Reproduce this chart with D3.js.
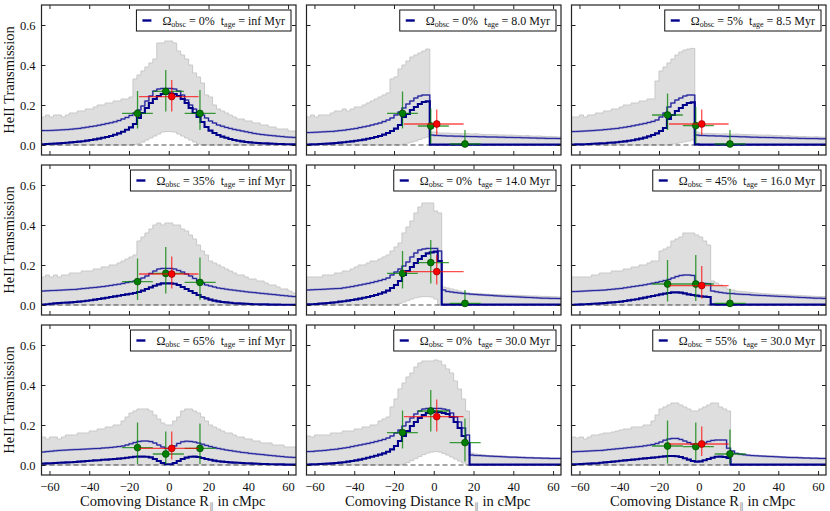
<!DOCTYPE html>
<html>
<head>
<meta charset="utf-8">
<script src="https://cdn.jsdelivr.net/npm/d3@7"></script>
<style>
  body { margin: 0; background: #fff; }
  text { font-family: "Liberation Serif", "Times New Roman", serif; fill: #111; }
</style>
</head>
<body>
<svg id="chart" width="830" height="511"></svg>
<script>
// bins of 2 cMpc from -64 to 64
const binStart = -64
const binWidth = 2

// legend labels
const omegaLabels = ['0%', '0%', '5%', '35%', '0%', '45%', '65%', '0%', '55%']
const ageLabels = ['inf', '8.0', '8.5', 'inf', '14.0', '16.0', 'inf', '30.0', '30.0']

// ---- panel 1 : 0% / inf
const p1Upper = [.14,.15,.14,.15,.15,.14,.15,.16, .16,.17,.17,.18,.18,.19,.20,.20, .21,.21,.22,.22,.23,.23,.24,.33, .35,.37,.39,.41,.43,.51,.51,.52, .52,.51,.47,.45,.43,.40,.36,.34, .31,.25,.24,.20,.18,.17,.16,.15, .14,.13,.13,.12,.12,.11,.11,.10, .10,.09,.09,.08,.08,.08,.07,.07]
const p1Lower = [0,0,0,0,0,0,0,0, 0,0,0,0,0,0,0,0, 0,0,0,0,0,0,0,.003, .008,.015,.025,.035,.045,.055,.065,.067, .067,.065,.055,.045,.035,.025,.015,.005, 0,0,0,0,0,0,0,0, 0,0,0,0,0,0,0,0, 0,0,0,0,0,0,0,0]
const p1Thick = [.004,.005,.006,.007,.008,.010,.011,.013, .015,.017,.019,.022,.025,.028,.032,.036, .040,.045,.051,.058,.066,.076,.088,.105, .135,.16,.185,.21,.23,.245,.255,.258, .258,.255,.245,.23,.21,.185,.16,.14, .115,.09,.072,.06,.05,.042,.036,.03, .025,.021,.018,.015,.013,.011,.01,.009, .008,.007,.006,.005,.005,.004,.004,.003]
const p1Thin = [.072,.072,.073,.074,.075,.076,.077,.079, .081,.083,.086,.089,.092,.095,.099,.103, .107,.111,.116,.122,.13,.138,.148,.16, .175,.195,.22,.245,.27,.28,.283,.283, .283,.28,.27,.25,.225,.2,.18,.165, .15,.135,.12,.11,.1,.094,.088,.083, .078,.074,.07,.066,.062,.058,.055,.052, .05,.048,.046,.044,.042,.04,.039,.038]

// ---- panel 2 : 0% / 8.0
const p2Upper = [.14,.15,.14,.15,.15,.15,.16,.17, .17,.18,.17,.18,.19,.19,.20,.21, .22,.23,.24,.25,.26,.33,.34,.38, .40,.42,.44,.45,.46,.47,.48,.065, .065,.06,.06,.06,.058,.058,.057,.056, .057,.055,.056,.054,.053,.052,.052,.051, .05,.05,.049,.05,.048,.047,.046,.047, .045,.044,.045,.043,.042,.043,.041,.04]
const p2Lower = [0,0,0,0,0,0,0,0, 0,0,0,0,0,0,0,0, 0,0,0,0,0,0,0,0, .005,.01,.015,.02,.028,.035,.04,0, 0,0,0,0,0,0,0,0, 0,0,0,0,0,0,0,0, 0,0,0,0,0,0,0,0, 0,0,0,0,0,0,0,0]
const p2Thick = [.002,.003,.004,.005,.006,.007,.008,.01, .012,.014,.016,.018,.021,.024,.027,.031, .035,.04,.045,.052,.06,.07,.082,.10, .14,.155,.175,.19,.205,.215,.218,.002, .002,.002,.002,.002,.002,.002,.002,.002, .002,.002,.002,.002,.002,.002,.002,.002, .002,.002,.002,.002,.002,.002,.002,.002, .002,.002,.002,.002,.002,.002,.002,.002]
const p2Thin = [.062,.063,.064,.065,.066,.067,.068,.07, .072,.074,.077,.08,.083,.087,.091,.095, .1,.105,.11,.117,.125,.135,.15,.165, .185,.205,.22,.235,.245,.25,.25,.05, .048,.047,.046,.045,.045,.044,.044,.043, .043,.042,.042,.041,.041,.04,.04,.04, .039,.039,.038,.038,.037,.037,.036,.036, .035,.035,.034,.034,.033,.033,.033,.032]

// ---- panel 3 : 5% / 8.5
const p3Upper = [.14,.14,.15,.14,.15,.15,.16,.16, .17,.17,.18,.18,.19,.20,.20,.21, .21,.22,.22,.23,.23,.32,.37,.39, .41,.43,.45,.465,.475,.48,.483,.065, .06,.058,.058,.057,.056,.055,.056,.055, .054,.055,.053,.052,.052,.051,.05,.05, .049,.05,.048,.047,.046,.045,.046,.044, .043,.042,.042,.041,.04,.041,.04,.039]
const p3Lower = [0,0,0,0,0,0,0,0, 0,0,0,0,0,0,0,0, 0,0,0,0,0,0,0,0, 0,.005,.008,.012,.016,.02,.025,0, 0,0,0,0,0,0,0,0, 0,0,0,0,0,0,0,0, 0,0,0,0,0,0,0,0, 0,0,0,0,0,0,0,0]
const p3Thick = [.002,.003,.003,.004,.005,.006,.007,.008, .009,.011,.012,.014,.016,.018,.021,.024, .028,.032,.037,.043,.05,.058,.07,.085, .13,.15,.17,.185,.2,.21,.213,.003, .002,.002,.002,.002,.002,.002,.002,.002, .002,.002,.002,.002,.002,.002,.002,.002, .002,.002,.002,.002,.002,.002,.002,.002, .002,.002,.002,.002,.002,.002,.002,.002]
const p3Thin = [.067,.068,.069,.07,.071,.072,.074,.075, .077,.079,.081,.083,.086,.089,.092,.096, .10,.104,.108,.113,.118,.125,.14,.16, .19,.21,.225,.235,.245,.25,.25,.05, .048,.047,.046,.046,.045,.045,.044,.043, .043,.042,.041,.041,.04,.039,.039,.038, .038,.037,.037,.036,.036,.035,.035,.034, .034,.033,.033,.032,.032,.032,.031,.031]

// ---- panel 4 : 35% / inf
const p4Upper = [.14,.15,.14,.15,.14,.15,.15,.16, .16,.16,.17,.17,.17,.18,.18,.19, .19,.20,.20,.21,.22,.23,.24,.25, .32,.34,.36,.38,.40,.41,.40,.41, .41,.40,.40,.38,.37,.35,.33,.30, .27,.25,.22,.21,.20,.19,.18,.17, .16,.15,.15,.14,.13,.13,.12,.12, .11,.10,.10,.09,.08,.08,.07,.06]
const p4Lower = [0,0,0,0,0,0,0,0, 0,0,0,0,0,0,0,0, 0,0,0,0,0,0,0,0, 0,0,0,0,0,0,0,0, 0,0,0,0,0,0,0,0, 0,0,0,0,0,0,0,0, 0,0,0,0,0,0,0,0, 0,0,0,0,0,0,0,0]
const p4Thick = [.002,.004,.006,.008,.01,.011,.012,.013, .015,.017,.019,.021,.024,.027,.03,.033, .036,.04,.043,.046,.05,.053,.056,.06, .065,.072,.08,.088,.096,.103,.108,.108, .108,.106,.1,.09,.08,.07,.06,.05, .04,.033,.027,.022,.018,.015,.013,.011, .009,.008,.007,.006,.005,.004,.004,.003, .003,.002,.002,.002,.001,.001,.001,.001]
const p4Thin = [.07,.071,.072,.073,.074,.075,.076,.077, .078,.08,.082,.084,.086,.088,.09,.092, .095,.098,.101,.104,.108,.112,.116,.12, .127,.135,.145,.158,.17,.18,.183,.183, .183,.18,.172,.165,.155,.145,.133,.12, .11,.1,.095,.09,.085,.082,.079,.076, .074,.071,.069,.066,.064,.062,.06,.058, .056,.054,.052,.05,.048,.046,.044,.042]

// ---- panel 5 : 0% / 14.0
const p5Upper = [.14,.14,.14,.14,.15,.15,.15,.16, .16,.17,.17,.18,.19,.20,.20,.21, .22,.22,.23,.24,.25,.27,.29,.31, .36,.39,.42,.46,.49,.51,.51,.51, .47,.46,.09,.085,.08,.075,.07,.065, .06,.058,.057,.056,.055,.054,.053,.052, .051,.05,.05,.049,.048,.048,.047,.046, .045,.045,.044,.043,.043,.042,.041,.04]
const p5Lower = [0,0,0,0,0,0,0,0, 0,0,0,0,0,0,0,0, 0,0,0,0,0,0,.003,.008, .015,.022,.03,.036,.04,.042,.042,.04, .03,0,0,0,0,0,0,0, 0,0,0,0,0,0,0,0, 0,0,0,0,0,0,0,0, 0,0,0,0,0,0,0,0]
const p5Thick = [.003,.004,.005,.007,.008,.01,.012,.014, .017,.019,.022,.025,.028,.032,.036,.04, .045,.05,.056,.063,.072,.085,.10,.12, .15,.17,.19,.21,.23,.245,.258,.263, .267,.22,.002,.002,.002,.002,.002,.002, .002,.002,.002,.002,.002,.002,.002,.002, .002,.002,.002,.002,.002,.002,.002,.002, .002,.002,.002,.002,.002,.002,.002,.002]
const p5Thin = [.075,.076,.077,.078,.079,.08,.081,.082, .083,.086,.089,.092,.096,.10,.104,.108, .112,.117,.122,.128,.135,.15,.165,.18, .195,.215,.24,.26,.275,.28,.283,.283, .283,.27,.075,.068,.065,.062,.06,.058, .056,.054,.053,.051,.05,.049,.048,.046, .045,.044,.043,.042,.041,.04,.039,.038, .037,.036,.035,.034,.034,.033,.033,.032]

// ---- panel 6 : 45% / 16.0
const p6Upper = [.14,.14,.14,.14,.14,.15,.15,.16, .16,.16,.17,.17,.17,.18,.18,.19, .19,.20,.20,.21,.22,.22,.27,.28, .29,.32,.33,.34,.36,.36,.36,.35, .34,.32,.30,.12,.11,.10,.09,.08, .075,.07,.068,.066,.064,.062,.06,.058, .056,.055,.054,.053,.052,.051,.05,.049, .048,.047,.046,.045,.044,.043,.042,.042]
const p6Lower = [0,0,0,0,0,0,0,0, 0,0,0,0,0,0,0,0, 0,0,0,0,0,0,0,0, 0,0,0,0,0,0,0,0, 0,0,0,0,0,0,0,0, 0,0,0,0,0,0,0,0, 0,0,0,0,0,0,0,0, 0,0,0,0,0,0,0,0]
const p6Thick = [.001,.002,.003,.004,.005,.006,.007,.008, .01,.012,.013,.015,.017,.02,.023,.026, .029,.033,.037,.041,.045,.049,.053,.057, .06,.063,.063,.062,.058,.053,.05,.047, .044,.042,.04,.003,.002,.002,.002,.002, .002,.002,.002,.002,.002,.002,.002,.002, .002,.002,.002,.002,.002,.002,.002,.002, .002,.002,.002,.002,.002,.002,.002,.002]
const p6Thin = [.067,.068,.069,.07,.071,.072,.073,.074, .075,.077,.079,.081,.083,.086,.089,.092, .095,.098,.101,.105,.109,.113,.117,.122, .128,.135,.142,.148,.15,.15,.148,.11, .108,.108,.106,.07,.066,.063,.06,.058, .057,.055,.054,.053,.052,.05,.049,.048, .047,.046,.045,.044,.043,.042,.041,.04, .039,.038,.037,.036,.035,.034,.034,.033]

// ---- panel 7 : 65% / inf
const p7Upper = [.14,.13,.14,.14,.13,.14,.15,.15, .15,.16,.16,.16,.17,.17,.18,.18, .19,.19,.20,.20,.22,.24,.26,.27, .28,.28,.28,.27,.25,.23,.21,.20, .20,.22,.24,.27,.28,.28,.27,.26, .24,.22,.20,.19,.18,.17,.16,.16, .15,.14,.14,.13,.13,.12,.12,.11, .11,.11,.10,.10,.10,.09,.09,.09]
const p7Lower = [0,0,0,0,0,0,0,0, 0,0,0,0,0,0,0,0, 0,0,0,0,0,0,0,0, 0,0,0,0,0,0,0,0, 0,0,0,0,0,0,0,0, 0,0,0,0,0,0,0,0, 0,0,0,0,0,0,0,0, 0,0,0,0,0,0,0,0]
const p7Thick = [.007,.008,.009,.01,.011,.012,.013,.014, .015,.017,.018,.02,.021,.023,.024,.026, .027,.029,.03,.032,.034,.036,.039,.041, .042,.042,.041,.038,.03,.02,.01,.004, .004,.01,.02,.03,.037,.041,.042,.04, .035,.03,.026,.022,.019,.017,.015,.013, .012,.011,.01,.009,.008,.007,.006,.005, .005,.004,.004,.003,.003,.002,.002,.002]
const p7Thin = [.065,.067,.069,.071,.073,.074,.075,.076, .077,.078,.079,.08,.081,.082,.083,.085, .086,.088,.09,.092,.095,.1,.106,.112, .118,.12,.12,.117,.11,.1,.09,.083, .085,.095,.108,.116,.119,.118,.115,.11, .104,.098,.092,.087,.083,.079,.075,.072, .069,.066,.063,.061,.058,.056,.054,.052, .05,.048,.046,.044,.042,.04,.039,.038]

// ---- panel 8 : 0% / 30.0
const p8Upper = [.145,.14,.15,.15,.15,.15,.16,.16, .16,.17,.17,.17,.18,.18,.19,.19, .20,.20,.22,.23,.24,.29,.33,.38, .41,.44,.46,.49,.51,.52,.52,.52, .525,.52,.50,.48,.46,.42,.38,.33, .27,.06,.055,.052,.05,.048,.047,.046, .045,.044,.043,.042,.041,.04,.039,.038, .037,.037,.036,.035,.035,.034,.034,.033]
const p8Lower = [0,0,0,0,0,0,0,0, 0,0,0,0,0,0,0,0, 0,0,0,0,0,0,0,0, .005,.012,.022,.032,.042,.052,.06,.065, .067,.065,.058,.05,.04,.03,.02,.01, 0,0,0,0,0,0,0,0, 0,0,0,0,0,0,0,0, 0,0,0,0,0,0,0,0]
const p8Thick = [.002,.003,.004,.005,.006,.007,.008,.01, .012,.014,.017,.02,.023,.027,.031,.036, .041,.046,.052,.058,.066,.078,.095,.12, .145,.17,.195,.215,.235,.25,.26,.265, .267,.265,.26,.255,.24,.215,.185,.145, .11,.002,.002,.002,.002,.002,.002,.002, .002,.002,.002,.002,.002,.002,.002,.002, .002,.002,.002,.002,.002,.002,.002,.002]
const p8Thin = [.067,.068,.07,.071,.073,.075,.077,.079, .082,.085,.088,.092,.096,.1,.104,.108, .112,.117,.122,.128,.135,.145,.16,.175, .195,.215,.235,.255,.27,.28,.283,.283, .283,.283,.28,.275,.26,.24,.215,.185, .15,.05,.048,.047,.046,.045,.044,.043, .042,.041,.04,.039,.039,.038,.037,.036, .036,.035,.035,.034,.034,.033,.033,.033]

// ---- panel 9 : 55% / 30.0
const p9Upper = [.14,.135,.14,.13,.14,.15,.15,.155, .16,.16,.165,.17,.175,.18,.18,.19, .19,.19,.20,.20,.22,.25,.28,.29, .30,.31,.31,.30,.29,.28,.27,.27, .28,.29,.30,.31,.31,.29,.28,.27, .07,.06,.055,.052,.05,.048,.047,.046, .046,.045,.044,.043,.042,.041,.04,.04, .039,.038,.037,.036,.035,.035,.034,.033]
const p9Lower = [0,0,0,0,0,0,0,0, 0,0,0,0,0,0,0,0, 0,0,0,0,0,0,0,0, 0,0,0,0,0,0,0,0, 0,0,0,0,0,0,0,0, 0,0,0,0,0,0,0,0, 0,0,0,0,0,0,0,0, 0,0,0,0,0,0,0,0]
const p9Thick = [.003,.004,.005,.006,.007,.008,.009,.011, .013,.015,.017,.019,.021,.023,.025,.027, .029,.031,.033,.035,.037,.039,.041,.043, .045,.045,.044,.04,.034,.027,.02,.017, .018,.024,.03,.036,.041,.042,.04,.035, .002,.002,.002,.002,.002,.002,.002,.002, .002,.002,.002,.002,.002,.002,.002,.002, .002,.002,.002,.002,.002,.002,.002,.002]
const p9Thin = [.066,.067,.068,.069,.07,.071,.072,.073, .075,.077,.079,.081,.083,.085,.087,.089, .091,.093,.096,.099,.102,.108,.115,.124, .13,.133,.133,.128,.12,.112,.104,.1, .102,.11,.118,.123,.125,.125,.125,.084, .07,.058,.054,.051,.049,.047,.046,.045, .044,.043,.042,.041,.04,.039,.038,.037, .037,.036,.035,.035,.034,.034,.033,.033]

// data points: green (three), red (one)
const greenX = [-15.7, -1.5, 15.7]
const greenXLo = [-23.5, -8, 8]
const greenXHi = [-8, 7.6, 23.6]
const redX = 1.5
const redXLo = -15
const redXHi = 15

const greenY = [[.158,.268,.158],[.158,.095,.005],[.15,.097,.005],[.117,.158,.113],[.158,.212,.008],[.105,.105,.008],[.087,.055,.083],[.162,.27,.112],[.095,.092,.055]]
const greenYLo = [[.083,.167,.075],[.083,.008,-.01],[.075,.008,-.01],[.025,.058,.025],[.083,.108,-.01],[.017,.02,-.01],[.005,.005,.005],[.083,.167,.017],[.008,.025,.008]]
const greenYHi = [[.27,.375,.275],[.267,.183,.075],[.258,.19,.075],[.233,.29,.237],[.27,.325,.075],[.225,.25,.08],[.213,.167,.208],[.272,.375,.233],[.222,.213,.178]]
const redY = [.242,.105,.105,.155,.167,.097,.083,.242,.105]
const redYLo = [.167,.05,.05,.083,.103,.033,.028,.167,.045]
const redYHi = [.325,.178,.178,.242,.25,.195,.167,.328,.192]

const upperSeries = [p1Upper, p2Upper, p3Upper, p4Upper, p5Upper, p6Upper, p7Upper, p8Upper, p9Upper]
const lowerSeries = [p1Lower, p2Lower, p3Lower, p4Lower, p5Lower, p6Lower, p7Lower, p8Lower, p9Lower]
const thickSeries = [p1Thick, p2Thick, p3Thick, p4Thick, p5Thick, p6Thick, p7Thick, p8Thick, p9Thick]
const thinSeries = [p1Thin, p2Thin, p3Thin, p4Thin, p5Thin, p6Thin, p7Thin, p8Thin, p9Thin]

const xTicks = [-60, -40, -20, 0, 20, 40, 60]
const yTicks = [0, 0.2, 0.4, 0.6]

// layout
const colLeft = [41.5, 306.5, 571.5]
const rowTop = [5, 165, 325]
const panelW = 254.5
const panelH = 150

const svg = d3.select('#chart')

function stepPoints(values) {
  const pts = values.map((v, i) => ({x: binStart + i * binWidth, v: v}))
  pts.push({x: binStart + values.length * binWidth, v: values[values.length - 1]})
  return pts
}

function drawPanel(k) {
  const col = k % 3
  const row = Math.floor(k / 3)
  const g = svg.append('g')
    .attr('transform', `translate(${colLeft[col]},${rowTop[row]})`)

  const x = d3.scaleLinear().domain([-64, 64]).range([0, panelW])
  const y = d3.scaleLinear().domain([-0.05, 0.7]).range([panelH, 0])

  g.append('clipPath').attr('id', 'clip' + k)
    .append('rect').attr('width', panelW).attr('height', panelH)
  const plot = g.append('g').attr('clip-path', `url(#clip${k})`)

  // gray band
  const lo = lowerSeries[k]
  const band = stepPoints(upperSeries[k]).map((d, i) => ({x: d.x, hi: d.v, lo: lo[Math.min(i, lo.length - 1)]}))
  plot.append('path')
    .datum(band)
    .attr('fill', '#dedede')
    .attr('d', d3.area().curve(d3.curveStepAfter)
      .x(d => x(d.x)).y0(d => y(d.lo)).y1(d => y(d.hi)))
  ;['hi', 'lo'].forEach(key => {
    plot.append('path')
      .datum(band)
      .attr('fill', 'none')
      .attr('stroke', '#c8c8c8')
      .attr('stroke-width', 1)
      .attr('d', d3.line().curve(d3.curveStepAfter).x(d => x(d.x)).y(d => y(d[key])))
  })

  // zero line
  plot.append('line')
    .attr('x1', 0).attr('x2', panelW)
    .attr('y1', y(0)).attr('y2', y(0))
    .attr('stroke', '#333')
    .attr('stroke-opacity', 0.85)
    .attr('stroke-width', 1.1)
    .attr('stroke-dasharray', '5,3')

  const stepLine = d3.line().curve(d3.curveStepAfter).x(d => x(d.x)).y(d => y(d.v))

  plot.append('path')
    .datum(stepPoints(thinSeries[k]))
    .attr('fill', 'none')
    .attr('stroke', '#5a5ac0')
    .attr('stroke-opacity', 0.5)
    .attr('stroke-width', 2)
    .attr('d', stepLine)
  plot.append('path')
    .datum(stepPoints(thinSeries[k]))
    .attr('fill', 'none')
    .attr('stroke', '#0c0c90')
    .attr('stroke-width', 0.9)
    .attr('d', stepLine)

  plot.append('path')
    .datum(stepPoints(thickSeries[k]))
    .attr('fill', 'none')
    .attr('stroke', '#00008b')
    .attr('stroke-width', 2.1)
    .attr('d', stepLine)

  // green points
  const greens = greenX.map((gx, i) => ({
    x: gx, xlo: greenXLo[i], xhi: greenXHi[i],
    y: greenY[k][i], ylo: greenYLo[k][i], yhi: greenYHi[k][i]
  }))
  const gErr = plot.append('g')
    .attr('stroke', 'green')
    .attr('stroke-opacity', 0.75)
    .attr('stroke-width', 1.3)
  greens.forEach(d => {
    gErr.append('line').attr('x1', x(d.xlo)).attr('x2', x(d.xhi)).attr('y1', y(d.y)).attr('y2', y(d.y))
    gErr.append('line').attr('x1', x(d.x)).attr('x2', x(d.x)).attr('y1', y(d.ylo)).attr('y2', y(d.yhi))
  })
  plot.append('g').selectAll('circle')
    .data(greens)
    .enter()
    .append('circle')
    .attr('cx', d => x(d.x))
    .attr('cy', d => y(d.y))
    .attr('r', 3.4)
    .attr('fill', 'green')
    .attr('stroke', '#004400')
    .attr('stroke-width', 0.7)

  // red point
  const rErr = plot.append('g')
    .attr('stroke', 'red')
    .attr('stroke-opacity', 0.7)
    .attr('stroke-width', 1.3)
  rErr.append('line').attr('x1', x(redXLo)).attr('x2', x(redXHi)).attr('y1', y(redY[k])).attr('y2', y(redY[k]))
  rErr.append('line').attr('x1', x(redX)).attr('x2', x(redX)).attr('y1', y(redYLo[k])).attr('y2', y(redYHi[k]))
  plot.append('circle')
    .attr('cx', x(redX))
    .attr('cy', y(redY[k]))
    .attr('r', 3.4)
    .attr('fill', 'red')
    .attr('stroke', '#880000')
    .attr('stroke-width', 0.7)

  // axes with inward ticks on all sides
  const bottom = g.append('g').attr('transform', `translate(0,${panelH})`)
    .call(d3.axisBottom(x).tickValues(xTicks).tickSize(-4).tickPadding(7)
      .tickFormat(row === 2 ? d3.format('d') : ''))
  const top = g.append('g')
    .call(d3.axisTop(x).tickValues(xTicks).tickSize(-4).tickFormat(''))
  const left = g.append('g')
    .call(d3.axisLeft(y).tickValues(yTicks).tickSize(-4).tickPadding(6)
      .tickFormat(col === 0 ? d3.format('.1f') : ''))
  const right = g.append('g').attr('transform', `translate(${panelW},0)`)
    .call(d3.axisRight(y).tickValues(yTicks).tickSize(-4).tickFormat(''))
  ;[bottom, top, left, right].forEach(a => {
    a.select('.domain').remove()
    a.selectAll('.tick line').attr('stroke', '#222')
    a.selectAll('text')
      .attr('font-family', '"Liberation Serif", serif')
      .attr('font-size', 12.5)
      .attr('fill', '#111')
  })

  g.append('rect')
    .attr('width', panelW).attr('height', panelH)
    .attr('fill', 'none')
    .attr('stroke', '#222')
    .attr('stroke-width', 1.2)

  // legend
  const lg = g.append('g')
  const box = lg.append('rect')
    .attr('fill', '#fff')
    .attr('stroke', '#111')
    .attr('stroke-width', 1)
  const txt = lg.append('text').attr('font-size', 12).attr('x', 0).attr('y', 0)
  txt.append('tspan').text('Ω')
  txt.append('tspan').attr('font-size', 8).attr('dy', 2.5).text('obsc')
  txt.append('tspan').attr('dy', -2.5).text(' = ' + omegaLabels[k])
  txt.append('tspan').attr('dx', 6).text('t')
  txt.append('tspan').attr('font-size', 8).attr('dy', 2.5).text('age')
  txt.append('tspan').attr('dy', -2.5).text(' = ' + ageLabels[k] + ' Myr')
  const tw = txt.node().getBBox().width
  const bw = tw + 32
  const bx = panelW - 5 - bw
  const by = 5
  box.attr('x', bx).attr('y', by).attr('width', bw).attr('height', 21)
  txt.attr('x', bx + 26).attr('y', by + 14.5)
  lg.append('line')
    .attr('x1', bx + 6).attr('x2', bx + 15)
    .attr('y1', by + 10.5).attr('y2', by + 10.5)
    .attr('stroke', '#00008b').attr('stroke-width', 2.4)

  if (col === 0) {
    g.append('text')
      .attr('transform', `translate(${13.5 - colLeft[0]},${panelH / 2}) rotate(-90)`)
      .attr('text-anchor', 'middle')
      .attr('font-size', 14.5)
      .text('HeII Transmission')
  }
  if (row === 2) {
    const xl = g.append('text')
      .attr('x', panelW / 2 + 4)
      .attr('y', panelH + 31)
      .attr('text-anchor', 'middle')
      .attr('font-size', 14.5)
    xl.append('tspan').text('Comoving Distance R')
    xl.append('tspan').attr('font-size', 10).attr('dy', 4).attr('fill', '#999').text('∥')
    xl.append('tspan').attr('dy', -4).text(' in cMpc')
  }
}

for (let k = 0; k < 9; k++) drawPanel(k)
</script>
</body>
</html>
